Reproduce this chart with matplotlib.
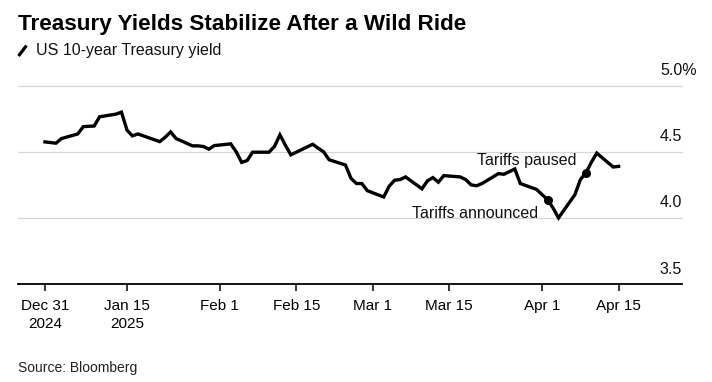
import matplotlib
matplotlib.use("Agg")
import matplotlib.pyplot as plt
from matplotlib.lines import Line2D
import pandas as pd

plt.rcParams['font.family'] = ['Liberation Sans', 'DejaVu Sans']

dates = ["2024-12-31", "2025-01-02", "2025-01-03", "2025-01-06", "2025-01-07", "2025-01-08",
         "2025-01-09", "2025-01-10", "2025-01-13", "2025-01-14", "2025-01-15", "2025-01-16",
         "2025-01-17", "2025-01-21", "2025-01-22", "2025-01-23", "2025-01-24", "2025-01-27",
         "2025-01-28", "2025-01-29", "2025-01-30", "2025-01-31", "2025-02-03", "2025-02-04",
         "2025-02-05", "2025-02-06", "2025-02-07", "2025-02-10", "2025-02-11", "2025-02-12",
         "2025-02-13", "2025-02-14", "2025-02-18", "2025-02-19", "2025-02-20", "2025-02-21",
         "2025-02-24", "2025-02-25", "2025-02-26", "2025-02-27", "2025-02-28", "2025-03-03",
         "2025-03-04", "2025-03-05", "2025-03-06", "2025-03-07", "2025-03-10", "2025-03-11",
         "2025-03-12", "2025-03-13", "2025-03-14", "2025-03-17", "2025-03-18", "2025-03-19",
         "2025-03-20", "2025-03-21", "2025-03-24", "2025-03-25", "2025-03-26", "2025-03-27",
         "2025-03-28", "2025-03-31", "2025-04-01", "2025-04-02", "2025-04-03", "2025-04-04",
         "2025-04-07", "2025-04-08", "2025-04-09", "2025-04-10", "2025-04-11", "2025-04-14",
         "2025-04-15"]
yields = [4.575, 4.565, 4.600, 4.635, 4.690, 4.693,
          4.695, 4.765, 4.785, 4.800, 4.665, 4.620,
          4.635, 4.577, 4.610, 4.650, 4.600, 4.545,
          4.545, 4.540, 4.520, 4.547, 4.560, 4.500,
          4.420, 4.434, 4.497, 4.497, 4.540, 4.628,
          4.550, 4.477, 4.557, 4.527, 4.500, 4.440,
          4.400, 4.300, 4.260, 4.260, 4.206, 4.158,
          4.240, 4.285, 4.290, 4.310, 4.220, 4.280,
          4.305, 4.270, 4.320, 4.310, 4.290, 4.250,
          4.243, 4.260, 4.335, 4.330, 4.350, 4.370,
          4.260, 4.215, 4.176, 4.138, 4.075, 4.000,
          4.176, 4.290, 4.340, 4.420, 4.490, 4.385,
          4.390]

event_dates = ["2025-04-02", "2025-04-09"]
event_labels = ["Tariffs announced", "Tariffs paused"]

tick_dates = ["2024-12-31", "2025-01-15", "2025-02-01", "2025-02-15", "2025-03-01",
              "2025-03-15", "2025-04-01", "2025-04-15"]
tick_labels = ["Dec 31\n2024", "Jan 15\n2025", "Feb 1", "Feb 15", "Mar 1",
               "Mar 15", "Apr 1", "Apr 15"]

y_ticks = [3.5, 4.0, 4.5, 5.0]
y_tick_labels = ["3.5", "4.0", "4.5", "5.0%"]

title = "Treasury Yields Stabilize After a Wild Ride"
subtitle = "US 10-year Treasury yield"
source = "Source: Bloomberg"

s = pd.Series(yields, index=pd.to_datetime(dates))

W, H = 712, 382
fig = plt.figure(figsize=(W / 100, H / 100), dpi=100)
fig.patch.set_facecolor("white")
ax = fig.add_axes([18 / W, 1 - 284 / H, 664 / W, (284 - 85.7) / H])

ax.plot(s.index, s.values, color="black", lw=2.4, solid_joinstyle="miter", zorder=3)

ax.set_ylim(3.5, 5.0)
ax.set_xlim(pd.Timestamp("2024-12-31") - pd.Timedelta(days=4.94),
            pd.Timestamp("2024-12-31") + pd.Timedelta(days=116.6))

for v in y_ticks[1:]:
    ax.axhline(v, color="#d6d6d6", lw=0.9, zorder=1, clip_on=False)

for sp in ["top", "left", "right"]:
    ax.spines[sp].set_visible(False)
ax.spines["bottom"].set_color("black")
ax.spines["bottom"].set_linewidth(1.3)
ax.set_yticks([])

ax.set_xticks(pd.to_datetime(tick_dates))
ax.set_xticklabels(tick_labels, fontsize=11, linespacing=1.3)
ax.tick_params(axis="x", direction="out", length=5, width=1.1, color="black", pad=6)

for v, lab in zip(y_ticks, y_tick_labels):
    dx = 11 if lab.endswith("%") else 0
    ax.annotate(lab, xy=(1.0, v), xycoords=("axes fraction", "data"),
                xytext=(dx, 7.5), textcoords="offset points",
                ha="right", va="baseline", fontsize=11.5, color="#111111")

# event markers
ev = pd.to_datetime(event_dates)
ax.plot(ev, s.loc[ev].values, "o", color="black", ms=5.5, zorder=4)
offsets = [(-7, -4.5), (-7, 3.5)]
vas = ["top", "bottom"]
for d, lab, off, va in zip(ev, event_labels, offsets, vas):
    ax.annotate(lab, xy=(d, s.loc[d]), xytext=off, textcoords="offset points",
                ha="right", va=va, fontsize=11.5, color="#111111")

fig.text(18 / W, 1 - 30 / H, title, fontsize=16.2, fontweight="bold",
         va="baseline", ha="left", color="black")
fig.add_artist(Line2D([18.5 / W, 26.5 / W], [1 - 56 / H, 1 - 45.5 / H],
                      color="black", lw=2.3, solid_capstyle="butt"))
fig.text(36 / W, 1 - 55.5 / H, subtitle, fontsize=11.5, va="baseline", ha="left",
         color="#111111")
fig.text(18 / W, 1 - 372 / H, source, fontsize=10, va="baseline", ha="left",
         color="#222222")

fig.savefig("out.png", dpi=100, facecolor="white")
